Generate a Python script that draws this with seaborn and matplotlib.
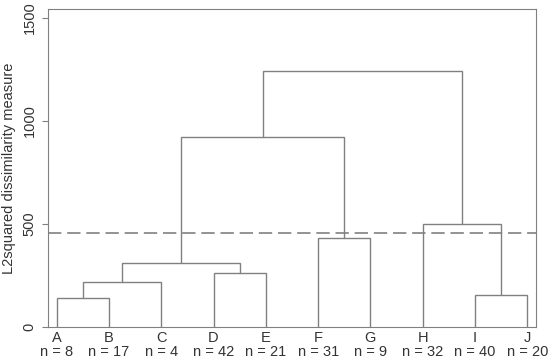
import matplotlib
matplotlib.use("Agg")
import matplotlib.pyplot as plt
import seaborn as sns

# leaves in plotting order and cluster sizes
leaves = ["A", "B", "C", "D", "E", "F", "G", "H", "I", "J"]
counts = [8, 17, 4, 42, 21, 31, 9, 32, 40, 20]

# merges: (left child, right child, height); children are leaf names or merge index
merge_left = ["A", 0, "D", 1, "F", 3, "I", "H", 5]
merge_right = ["B", "C", "E", 2, "G", 4, "J", 6, 7]
merge_height = [139, 217, 262, 309, 430, 921, 154, 498, 1243]

cut_height = 455

sns.set_theme(style="white")
plt.rcParams["font.family"] = ["Liberation Sans", "DejaVu Sans"]

line_col = "#808080"
text_col = "#333333"

fig = plt.figure(figsize=(5.5, 3.6), dpi=100)
ax = fig.add_axes([0.0867, 0.0917, 0.8878, 0.8833])

pos = {name: i for i, name in enumerate(leaves)}
node_x, node_y = [], []


def child_xy(c):
    if isinstance(c, str):
        return pos[c], 0
    return node_x[c], node_y[c]


for l, r, h in zip(merge_left, merge_right, merge_height):
    xl, yl = child_xy(l)
    xr, yr = child_xy(r)
    ax.plot([xl, xl, xr, xr], [yl, h, h, yr], color=line_col, lw=1.0,
            solid_joinstyle="miter")
    node_x.append((xl + xr) / 2)
    node_y.append(h)

ax.axhline(cut_height, color=line_col, lw=1.2, dashes=(8, 3.5))

ax.set_xlim(-0.172, 9.166)
ax.set_ylim(0, 1544)
ax.set_xticks(range(len(leaves)))
ax.set_xticklabels([f"{a}\nn = {n}" for a, n in zip(leaves, counts)],
                   fontsize=10.5, color=text_col, linespacing=1.0)
ax.tick_params(axis="x", length=0, pad=3)
ax.set_yticks([0, 500, 1000, 1500])
ax.set_yticklabels(["0", "500", "1000", "1500"], rotation=90, va="center",
                   fontsize=10.5, color=text_col)
ax.tick_params(axis="y", length=4, width=0.8, color=line_col, pad=4,
               left=True)
ax.set_ylabel("L2squared dissimilarity measure", fontsize=10.5,
              color=text_col, labelpad=5)
for s in ax.spines.values():
    s.set_color(line_col)
    s.set_linewidth(0.8)

fig.savefig("out.png", dpi=100, facecolor="white")
